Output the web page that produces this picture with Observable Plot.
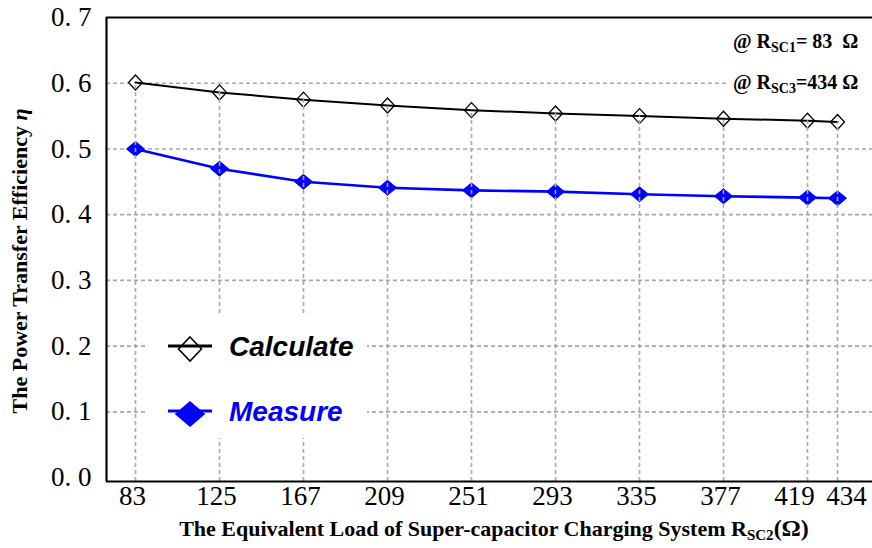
<!DOCTYPE html>
<html>
<head>
<meta charset="utf-8">
<script src="https://cdn.jsdelivr.net/npm/d3@7"></script>
<script src="https://cdn.jsdelivr.net/npm/@observablehq/plot@0.6"></script>
<style>
  html, body { margin: 0; padding: 0; background: #fff; }
  svg text { white-space: pre; }
</style>
</head>
<body>
<div id="chart"></div>
<script>
// ---- data ----
const loads = [83, 125, 167, 209, 251, 293, 335, 377, 419, 434];
const calculate = [0.601, 0.586, 0.575, 0.566, 0.559, 0.554, 0.550, 0.546, 0.543, 0.541];
const measure = [0.500, 0.470, 0.450, 0.441, 0.437, 0.435, 0.431, 0.428, 0.426, 0.425];
const yTicks = [0, 0.1, 0.2, 0.3, 0.4, 0.5, 0.6, 0.7];
const yTickLabels = ["0. 0", "0. 1", "0. 2", "0. 3", "0. 4", "0. 5", "0. 6", "0. 7"];
const yGrid = [0.1, 0.2, 0.3, 0.4, 0.5, 0.6];
const xDomain = [68.5, 451.5];
const yDomain = [-0.006, 0.7];
const seriesNames = ["Calculate", "Measure"];
const seriesColors = ["#000000", "#0000ff"];

const rows = loads.map((x, i) => ({x, calc: calculate[i], meas: measure[i]}));

const serif = "'Liberation Serif', 'Times New Roman', serif";
const sans = "'Liberation Sans', Arial, sans-serif";

function diamond(hw, hh) {
  return {
    draw(context) {
      context.moveTo(0, -hh);
      context.lineTo(hw, 0);
      context.lineTo(0, hh);
      context.lineTo(-hw, 0);
      context.closePath();
    }
  };
}

const grid = {stroke: "#a8a8a8", strokeDasharray: "4,3", strokeWidth: 1.6, strokeOpacity: 1};
const tickFont = {fontSize: 27, fontFamily: serif, fill: "#000"};
const mainLoads = loads.slice(0, 8);
const lastLoads = loads.slice(8);

const plot = Plot.plot({
  width: 872,
  height: 548,
  marginLeft: 106,
  marginRight: 0,
  marginTop: 17,
  marginBottom: 67,
  style: {background: "#fff", overflow: "visible"},
  x: {type: "linear", domain: xDomain, axis: null},
  y: {type: "linear", domain: yDomain, axis: null},
  marks: [
    Plot.ruleY(yGrid, grid),
    Plot.dot(rows, {x: "x", y: "calc", symbol: diamond(7, 7.5), fill: "#fff", stroke: seriesColors[0], strokeWidth: 1.3, r: 7}),
    Plot.line(rows, {x: "x", y: "calc", stroke: seriesColors[0], strokeWidth: 2}),
    Plot.line(rows, {x: "x", y: "meas", stroke: seriesColors[1], strokeWidth: 2.6}),
    Plot.dot(rows, {x: "x", y: "meas", symbol: diamond(9, 7.5), fill: seriesColors[1], stroke: seriesColors[1], strokeWidth: 1, r: 7}),
    Plot.ruleX(rows, {x: "x", y1: yDomain[0], y2: "calc", ...grid}),
    Plot.ruleY([yDomain[0], yDomain[1]], {stroke: "#000", strokeWidth: 2.2}),
    Plot.ruleX([xDomain[0]], {stroke: "#000", strokeWidth: 2.2}),
    Plot.text(yTicks, {x: xDomain[0], y: d => d, text: (d, i) => yTickLabels[i], textAnchor: "end", dx: -15, ...tickFont}),
    Plot.text(mainLoads, {x: d => d, y: yDomain[0], text: d => String(d), dy: 15, dx: -3, ...tickFont}),
    Plot.text([lastLoads[0]], {x: d => d, y: yDomain[0], text: d => String(d), dy: 15, dx: -13, ...tickFont}),
    Plot.text([lastLoads[1]], {x: d => d, y: yDomain[0], text: d => String(d), dy: 15, dx: 9, ...tickFont})
  ]
});

document.getElementById("chart").appendChild(plot);

const svg = d3.select(plot);

// ---- legend ----
const lg = svg.append("g").attr("text-anchor", "start");
lg.append("rect").attr("x", 148).attr("y", 315).attr("width", 219).attr("height", 123).attr("fill", "#fff");
const legendY = [346, 411];
const legendSym = [diamond(11.5, 12), diamond(14, 12)];
seriesNames.forEach((name, i) => {
  const y = legendY[i];
  const p = d3.path();
  legendSym[i].draw(p);
  lg.append("path").attr("d", p.toString()).attr("transform", `translate(190,${y + 3})`)
    .attr("fill", i === 0 ? "#fff" : seriesColors[i]).attr("stroke", seriesColors[i]).attr("stroke-width", 1.6);
  lg.append("line").attr("x1", 168).attr("x2", 212).attr("y1", y).attr("y2", y)
    .attr("stroke", seriesColors[i]).attr("stroke-width", 3.2);
  lg.append("text").attr("x", 229).attr("y", y + 10).attr("text-anchor", "start").text(name)
    .attr("font-family", sans).attr("font-weight", "bold").attr("font-style", "italic")
    .attr("font-size", 28).attr("fill", seriesColors[i]);
});

// ---- annotations ----
const ann = svg.append("g").attr("font-family", serif).attr("font-weight", "bold").attr("font-size", 20)
  .attr("fill", "#000").attr("text-anchor", "start");
ann.append("rect").attr("x", 729).attr("y", 70).attr("width", 143).attr("height", 24).attr("fill", "#fff");
function annText(y, sub, rest) {
  const t = ann.append("text").attr("x", 733).attr("y", y).attr("text-anchor", "start");
  t.append("tspan").text("@ R");
  t.append("tspan").attr("font-size", 14).attr("dy", 4).text(sub);
  t.append("tspan").attr("dy", -4).text(rest);
}
annText(48, "SC1", "= 83  Ω");
annText(89, "SC3", "=434 Ω");

// ---- axis titles ----
const xt = svg.append("text").attr("x", 494).attr("y", 536).attr("text-anchor", "middle")
  .attr("font-family", serif).attr("font-weight", "bold").attr("font-size", 22).attr("fill", "#000");
xt.append("tspan").text("The Equivalent Load of Super-capacitor Charging System R");
xt.append("tspan").attr("font-size", 15).attr("dy", 4).text("SC2");
xt.append("tspan").attr("dy", -4).attr("font-size", 24).text("(Ω)");

const yt = svg.append("text").attr("transform", "translate(27,261) rotate(-90)").attr("text-anchor", "middle")
  .attr("font-family", serif).attr("font-weight", "bold").attr("font-size", 22).attr("fill", "#000");
yt.append("tspan").text("The Power Transfer Efficiency ");
yt.append("tspan").attr("font-style", "italic").text("η");
</script>
</body>
</html>
